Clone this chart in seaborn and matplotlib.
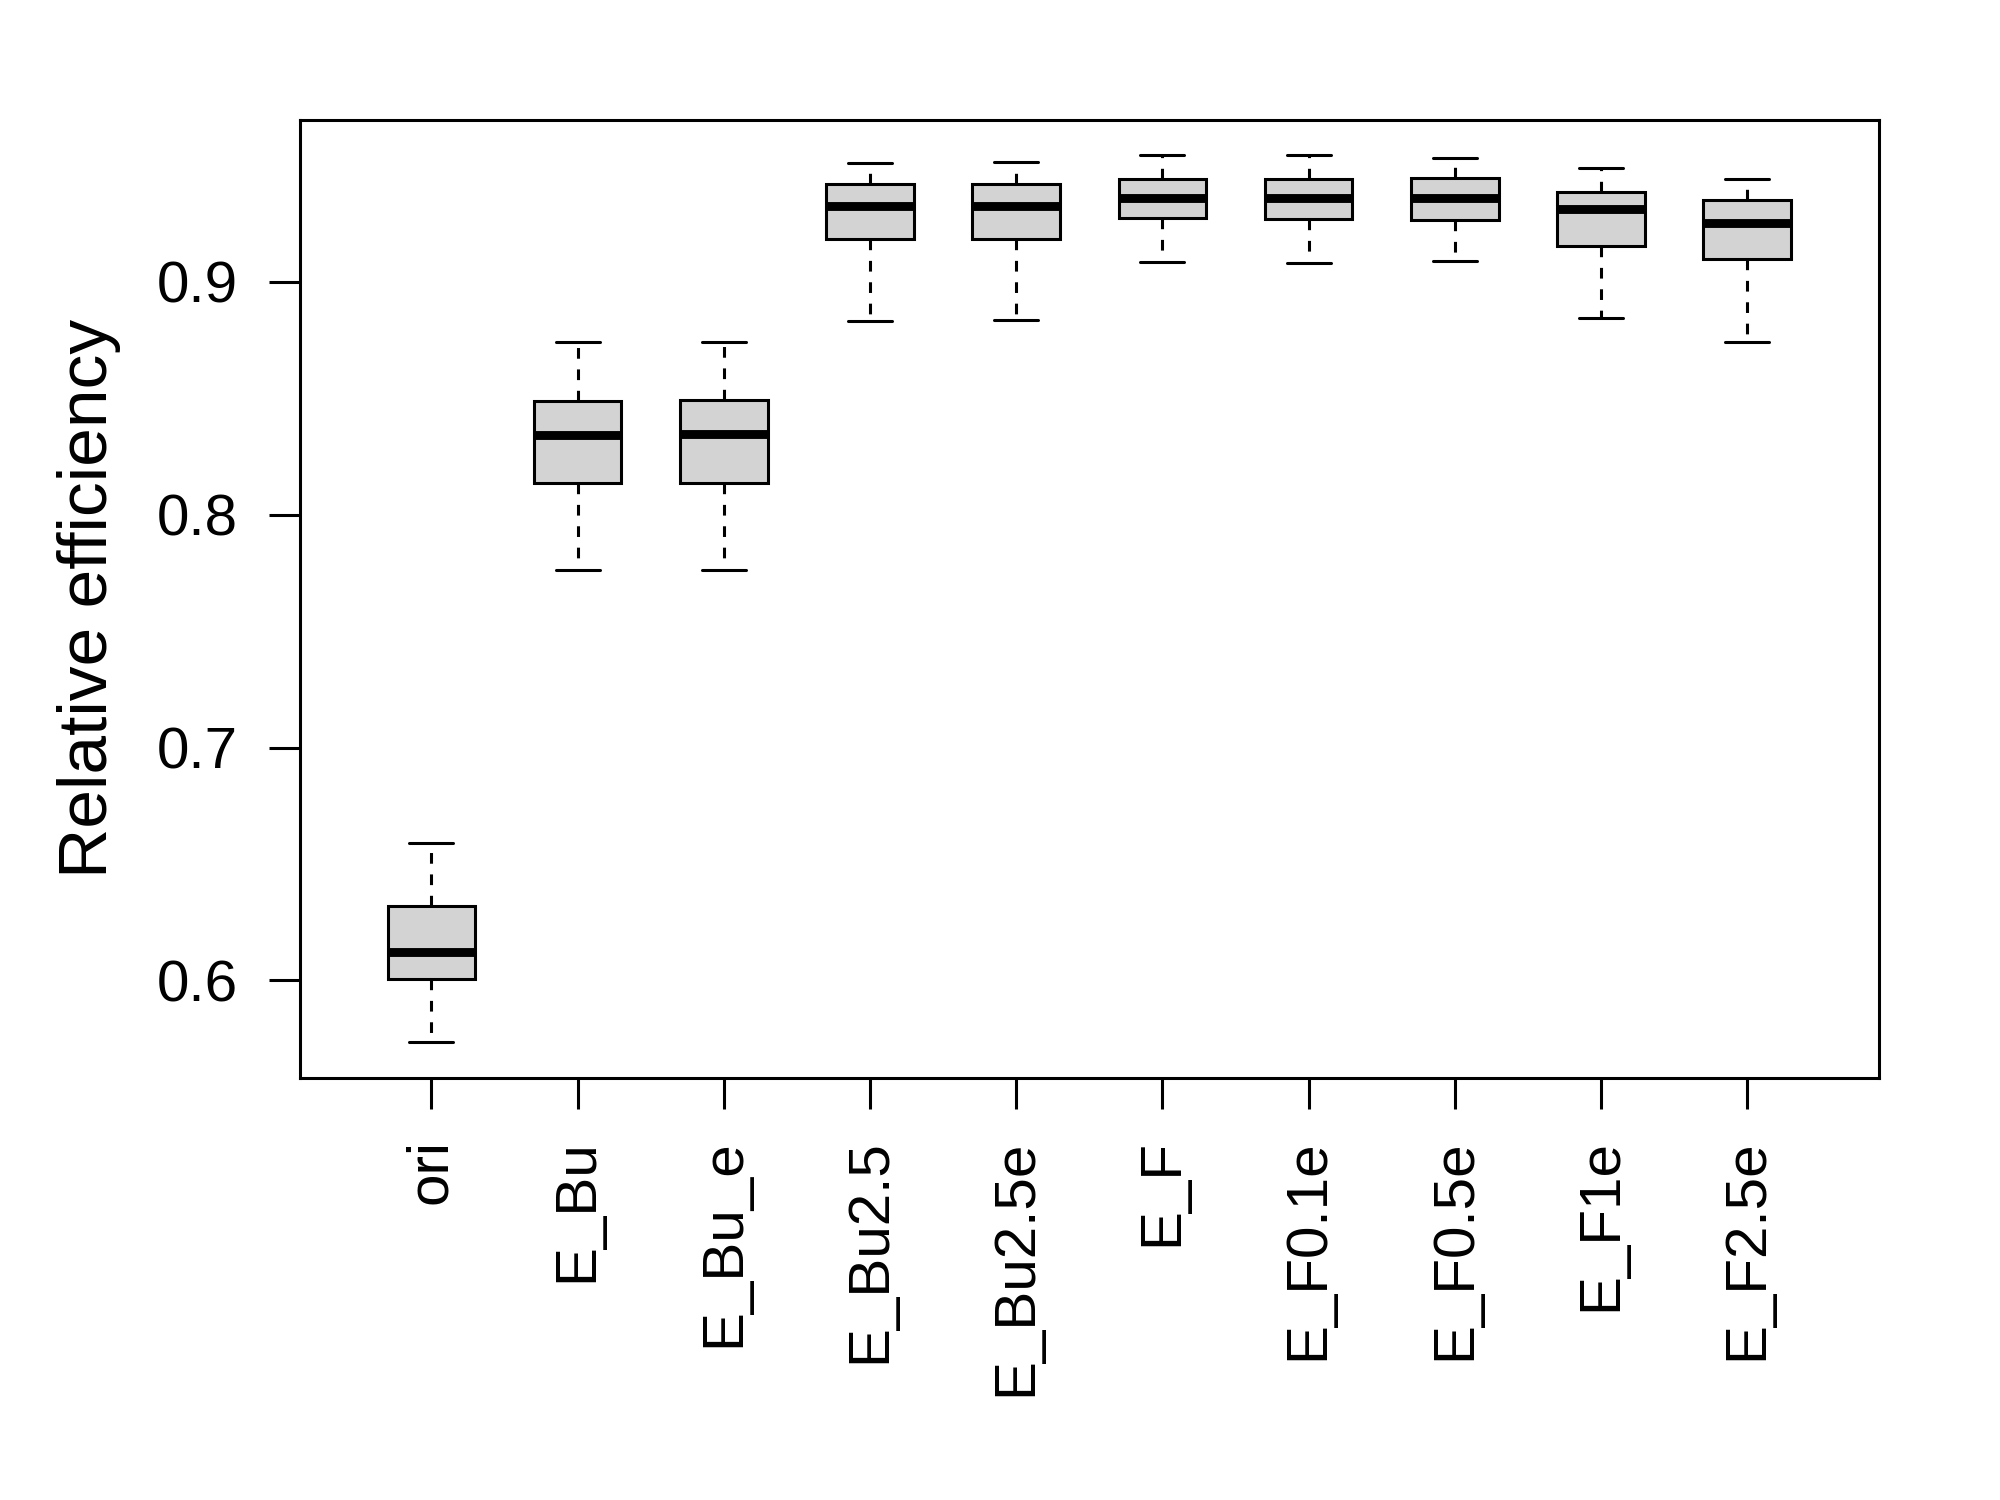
import numpy as np
import pandas as pd
import matplotlib
matplotlib.use("Agg")
import matplotlib.pyplot as plt
import seaborn as sns

# ---- data (five-number summaries) ----
categories = ["ori", "E_Bu", "E_Bu_e", "E_Bu2.5", "E_Bu2.5e",
              "E_F", "E_F0.1e", "E_F0.5e", "E_F1e", "E_F2.5e"]
whisker_low = [0.5734, 0.7764, 0.7764, 0.8830, 0.8835,
               0.9083, 0.9079, 0.9087, 0.8843, 0.8742]
q1_values = [0.6005, 0.8137, 0.8135, 0.9183, 0.9183,
             0.9274, 0.9270, 0.9263, 0.9154, 0.9096]
median_values = [0.6120, 0.8342, 0.8346, 0.9327, 0.9327,
                 0.9361, 0.9360, 0.9361, 0.9314, 0.9254]
q3_values = [0.6320, 0.8489, 0.8492, 0.9418, 0.9418,
             0.9443, 0.9443, 0.9447, 0.9387, 0.9349]
whisker_high = [0.6590, 0.8739, 0.8740, 0.9511, 0.9516,
                0.9543, 0.9543, 0.9533, 0.9490, 0.9439]
y_ticks = [0.6, 0.7, 0.8, 0.9]
y_label = "Relative efficiency"

rows = []
for cat, lo, a, m, b, hi in zip(categories, whisker_low, q1_values,
                                median_values, q3_values, whisker_high):
    for v in (lo, a, m, b, hi):
        rows.append((cat, v))
df = pd.DataFrame(rows, columns=["method", "value"])

sns.set_style("ticks")
plt.rcParams["font.family"] = ["Liberation Sans", "DejaVu Sans"]
plt.rcParams["text.color"] = "black"
plt.rcParams["axes.labelcolor"] = "black"

fig = plt.figure(figsize=(10, 7.5), dpi=200)
ax = fig.add_axes([0.1499, 0.2815, 0.7895, 0.6386])

lw = 1.1
sns.boxplot(data=df, x="method", y="value", order=categories,
            width=0.6, whis=(0, 100), color="#D3D3D3", saturation=1,
            linecolor="black", linewidth=lw, fliersize=0,
            medianprops=dict(linewidth=3.2, color="black"),
            whiskerprops=dict(linestyle=(0, (3.5, 3.5)), linewidth=lw),
            capprops=dict(linewidth=lw),
            ax=ax)

ax.set_xlim(-0.9, 9.9)
ax.set_ylim(0.5582, 0.9695)
ax.set_yticks(y_ticks)
ax.set_yticklabels([f"{t:.1f}" for t in y_ticks])
ax.set_xlabel("")
ax.set_ylabel(y_label, fontsize=25, va="center", color="black")
ax.yaxis.set_label_coords(-0.1334, 0.5)

for s in ax.spines.values():
    s.set_visible(True)
    s.set_color("black")
    s.set_linewidth(lw)

ax.tick_params(axis="both", direction="out", length=11.2, width=lw,
               colors="black", labelsize=21, pad=11)
plt.setp(ax.get_xticklabels(), rotation=90, ha="center", va="top")

fig.savefig("out.png", dpi=200, facecolor="white")
